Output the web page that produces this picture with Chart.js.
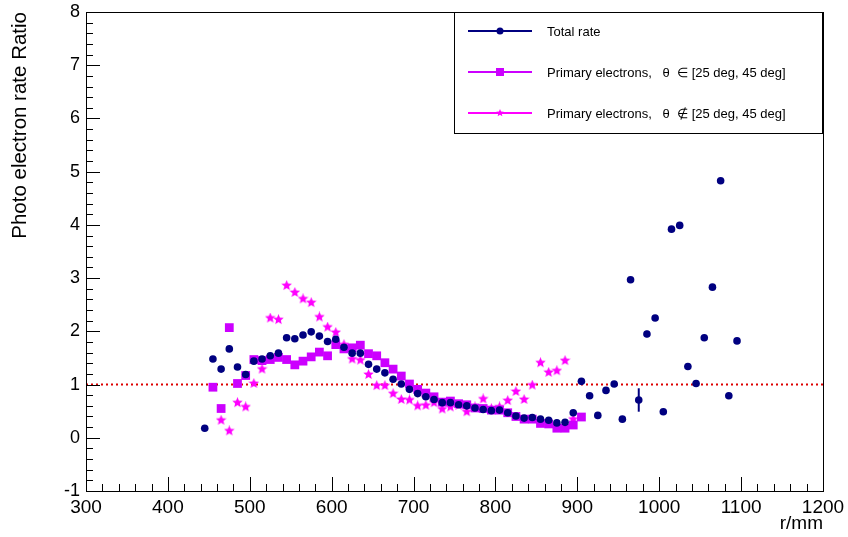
<!DOCTYPE html>
<html>
<head>
<meta charset="utf-8">
<script src="https://cdn.jsdelivr.net/npm/chart.js@4/dist/chart.umd.min.js"></script>
<style>
  body { margin: 0; background: #fff; }
  canvas { display: block; }
</style>
</head>
<body>
<canvas id="ratio" width="848" height="537"></canvas>
<script>
Chart.defaults.font.family = '"Liberation Sans", Arial, sans-serif';
Chart.defaults.color = '#000';

// total rate, bins 445 .. 1095 mm
const rTotal = [445, 455, 465, 475, 485, 495, 505, 515, 525, 535, 545, 555, 565, 575, 585, 595, 605, 615, 625, 635,
    645, 655, 665, 675, 685, 695, 705, 715, 725, 735, 745, 755, 765, 775, 785, 795, 805, 815, 825, 835,
    845, 855, 865, 875, 885, 895, 905, 915, 925, 935, 945, 955, 965, 975, 985, 995, 1005, 1015, 1025, 1035,
    1045, 1055, 1065, 1075, 1085, 1095];
const totalRate = [0.18, 1.48, 1.29, 1.67, 1.33, 1.19, 1.44, 1.48, 1.54, 1.59, 1.88, 1.86, 1.93, 1.99, 1.91, 1.81, 1.85, 1.70, 1.59, 1.59,
    1.38, 1.29, 1.22, 1.10, 1.01, 0.91, 0.83, 0.77, 0.72, 0.66, 0.66, 0.62, 0.60, 0.56, 0.53, 0.51, 0.52, 0.47, 0.41, 0.37,
    0.38, 0.35, 0.33, 0.28, 0.29, 0.47, 1.06, 0.79, 0.42, 0.89, 1.01, 0.35, 2.97, 0.71, 1.95, 2.25, 0.49, 3.92, 3.99, 1.34,
    1.02, 1.88, 2.83, 4.83, 0.79, 1.82];
const totalErr = [0, 0, 0, 0, 0, 0, 0, 0, 0, 0, 0, 0, 0, 0, 0, 0, 0, 0, 0, 0,
    0, 0, 0, 0, 0, 0, 0, 0, 0, 0, 0, 0, 0, 0, 0, 0, 0, 0, 0, 0,
    0, 0, 0, 0, 0, 0, 0, 0, 0, 0, 0, 0, 0, 0.22, 0.06, 0.04, 0, 0, 0, 0,
    0, 0, 0, 0, 0, 0];

// primary electrons, theta in [25, 45] deg
const rIn = [455, 465, 475, 485, 495, 505, 515, 525, 535, 545, 555, 565, 575, 585, 595, 605, 615, 625, 635, 645,
    655, 665, 675, 685, 695, 705, 715, 725, 735, 745, 755, 765, 775, 785, 795, 805, 815, 825, 835, 845,
    855, 865, 875, 885, 895, 905];
const primaryIn = [0.95, 0.55, 2.07, 1.02, 1.17, 1.47, 1.45, 1.47, 1.51, 1.47, 1.37, 1.44, 1.52, 1.61, 1.54, 1.75, 1.67, 1.69, 1.74, 1.58,
    1.54, 1.41, 1.29, 1.16, 1.01, 0.91, 0.84, 0.77, 0.67, 0.69, 0.64, 0.62, 0.56, 0.55, 0.52, 0.52, 0.47, 0.40, 0.35, 0.35,
    0.27, 0.26, 0.18, 0.18, 0.24, 0.39];

// primary electrons, theta outside [25, 45] deg
const rOut = [465, 475, 485, 495, 505, 515, 525, 535, 545, 555, 565, 575, 585, 595, 605, 615, 625, 635, 645, 655,
    665, 675, 685, 695, 705, 715, 725, 735, 745, 755, 765, 775, 785, 795, 805, 815, 825, 835, 845, 855,
    865, 875, 885, 895];
const primaryOut = [0.33, 0.13, 0.66, 0.58, 1.02, 1.29, 2.25, 2.22, 2.86, 2.73, 2.61, 2.54, 2.27, 2.08, 1.98, 1.75, 1.48, 1.46, 1.19, 0.98,
    0.98, 0.83, 0.72, 0.71, 0.60, 0.61, 0.66, 0.54, 0.58, 0.61, 0.49, 0.58, 0.73, 0.55, 0.58, 0.70, 0.87, 0.72, 0.99, 1.41,
    1.23, 1.26, 1.45, 0.35];

const seriesLabels = [
    'Total rate',
    'Primary electrons,   \u03b8  \u2208 [25 deg, 45 deg]',
    'Primary electrons,   \u03b8  \u2209 [25 deg, 45 deg]'
];
const xRange = [300, 1200];
const yRange = [-1, 8];
const refLevel = 1;

const navy = '#000080';
const violet = '#cc00ff';
const magenta = '#ff00ff';

function toPoints(xs, ys) {
    return xs.map((x, i) => ({ x: x, y: ys[i] }));
}

// filled star marker like ROOT style 29
function makeStar(size, color) {
    const c = document.createElement('canvas');
    c.width = size;
    c.height = size;
    const g = c.getContext('2d');
    const cx = size / 2, cy = size / 2, ro = size / 2, ri = ro * 0.45;
    g.beginPath();
    for (let i = 0; i < 10; i++) {
        const r = i % 2 ? ri : ro;
        const a = -Math.PI / 2 + i * Math.PI / 5;
        g.lineTo(cx + r * Math.cos(a), cy + r * Math.sin(a));
    }
    g.closePath();
    g.fillStyle = color;
    g.fill();
    return c;
}
const starImg = makeStar(11, magenta);

// inside tick marks, frame, error bars and legend, ROOT style
const rootStyle = {
    id: 'rootStyle',
    afterDatasetsDraw(chart) {
        const ctx = chart.ctx;
        const a = chart.chartArea;
        const xs = chart.scales.x, ys = chart.scales.y;
        ctx.save();

        // error bars on total rate
        ctx.strokeStyle = navy;
        ctx.lineWidth = 2;
        rTotal.forEach((r, i) => {
            if (totalErr[i] > 0) {
                const px = xs.getPixelForValue(r);
                ctx.beginPath();
                ctx.moveTo(px, ys.getPixelForValue(totalRate[i] - totalErr[i]));
                ctx.lineTo(px, ys.getPixelForValue(totalRate[i] + totalErr[i]));
                ctx.stroke();
            }
        });

        // frame
        ctx.strokeStyle = '#000';
        ctx.lineWidth = 1;
        ctx.strokeRect(Math.round(a.left) + 0.5, Math.round(a.top) + 0.5,
            Math.round(a.right - a.left), Math.round(a.bottom - a.top));

        // x ticks
        ctx.beginPath();
        for (let v = xRange[0]; v <= xRange[1]; v += 20) {
            const px = Math.round(xs.getPixelForValue(v)) + 0.5;
            const len = (v % 100 === 0) ? 14 : 7;
            ctx.moveTo(px, a.bottom);
            ctx.lineTo(px, a.bottom - len);
        }
        // y ticks
        for (let k = 0; k <= 45; k++) {
            const v = yRange[0] + k * 0.2;
            const py = Math.round(ys.getPixelForValue(v)) + 0.5;
            const len = (k % 5 === 0) ? 14 : 7;
            ctx.moveTo(a.left, py);
            ctx.lineTo(a.left + len, py);
        }
        ctx.stroke();

        // legend box
        const bx = 454, by = 12, bw = 368, bh = 121;
        ctx.fillStyle = '#fff';
        ctx.fillRect(bx, by, bw, bh);
        ctx.strokeStyle = '#000';
        ctx.strokeRect(bx + 0.5, by + 0.5, bw, bh);
        const rows = [31, 72, 113];
        chart.data.datasets.slice(0, 3).forEach((ds, i) => {
            const y = rows[i];
            ctx.strokeStyle = ds.borderColor;
            ctx.lineWidth = 2;
            ctx.beginPath();
            ctx.moveTo(468, y);
            ctx.lineTo(532, y);
            ctx.stroke();
            if (ds.pointStyle === 'rect') {
                ctx.fillStyle = ds.backgroundColor;
                ctx.fillRect(496, y - 4, 8, 8);
            } else if (ds.pointStyle === 'circle') {
                ctx.fillStyle = ds.backgroundColor;
                ctx.beginPath();
                ctx.arc(500, y, 3.5, 0, Math.PI * 2);
                ctx.fill();
            } else {
                ctx.drawImage(makeStar(8, magenta), 496, y - 4);
            }
            ctx.fillStyle = '#000';
            ctx.font = '13px "Liberation Sans", Arial, sans-serif';
            ctx.textBaseline = 'middle';
            ctx.fillText(ds.label, 547, y + 1);
        });
        ctx.restore();
    }
};

new Chart(document.getElementById('ratio'), {
    type: 'scatter',
    data: {
        datasets: [
            {
                label: seriesLabels[0],
                data: toPoints(rTotal, totalRate),
                backgroundColor: navy,
                borderColor: navy,
                pointStyle: 'circle',
                pointRadius: 3.8,
                pointBorderWidth: 0,
                showLine: false
            },
            {
                label: seriesLabels[1],
                data: toPoints(rIn, primaryIn),
                backgroundColor: violet,
                borderColor: violet,
                pointStyle: 'rect',
                pointRadius: 6.2,
                pointBorderWidth: 0,
                showLine: false
            },
            {
                label: seriesLabels[2],
                data: toPoints(rOut, primaryOut),
                backgroundColor: magenta,
                borderColor: magenta,
                pointStyle: starImg,
                showLine: false
            },
            {
                label: 'ref',
                data: [{ x: xRange[0], y: refLevel }, { x: xRange[1], y: refLevel }],
                borderColor: '#dd0000',
                borderWidth: 2,
                borderDash: [2, 3],
                pointRadius: 0,
                showLine: true
            }
        ]
    },
    options: {
        responsive: false,
        animation: false,
        devicePixelRatio: 1,
        layout: { padding: { top: 12, right: 25, left: 0, bottom: 0 } },
        plugins: {
            legend: { display: false },
            tooltip: { enabled: false }
        },
        scales: {
            x: {
                type: 'linear',
                min: xRange[0],
                max: xRange[1],
                grid: { display: false, drawTicks: false },
                border: { display: false },
                ticks: { stepSize: 100, padding: 5, maxRotation: 0, font: { size: 19 }, callback: v => String(v) },
                title: { display: true, text: 'r/mm', align: 'end', font: { size: 19 }, padding: { top: 0, bottom: 2 } },
                afterFit(s) { s.height = 46; s.paddingLeft = 0; s.paddingRight = 0; }
            },
            y: {
                type: 'linear',
                min: yRange[0],
                max: yRange[1],
                grid: { display: false, drawTicks: false },
                border: { display: false },
                ticks: { stepSize: 1, padding: 6, font: { size: 18 }, callback: v => String(v) },
                title: { display: true, text: 'Photo electron rate Ratio', align: 'end', font: { size: 20.5 }, padding: { top: 8, bottom: 0 } },
                afterFit(s) { s.width = 86; s.paddingTop = 0; s.paddingBottom = 0; }
            }
        }
    },
    plugins: [rootStyle]
});
</script>
</body>
</html>
